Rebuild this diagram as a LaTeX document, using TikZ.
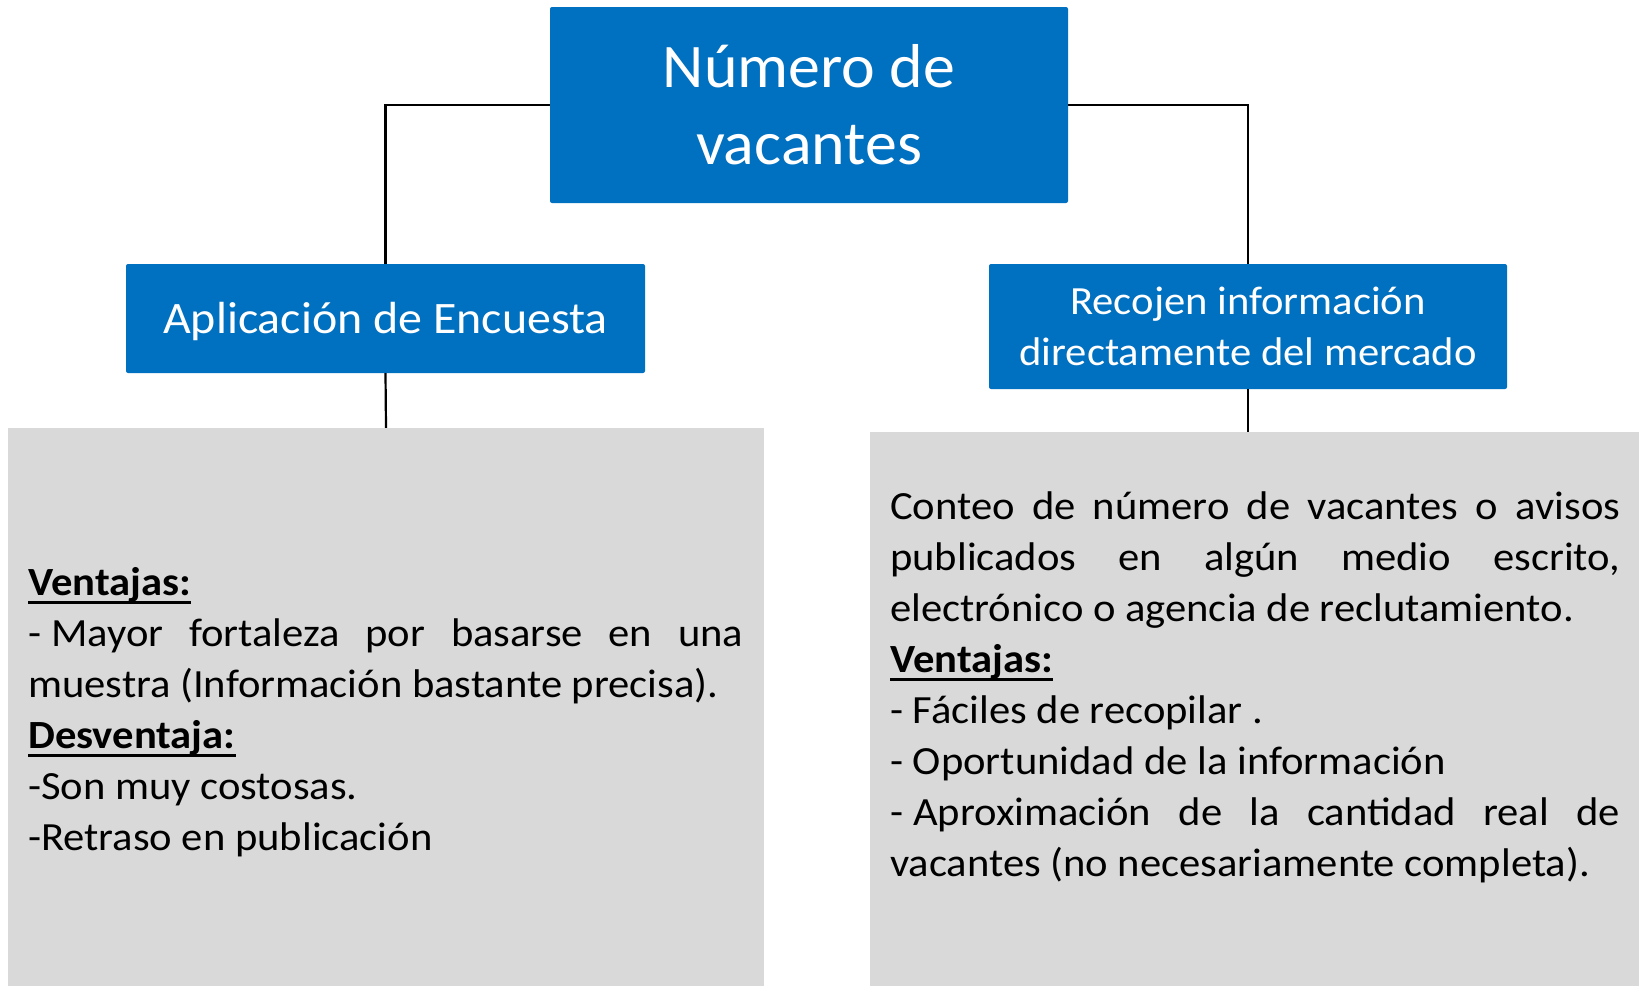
\documentclass[tikz,border=0pt]{standalone}
\usepackage{fontspec}
\setmainfont{Carlito}[FakeStretch=1.065]
\newfontfamily\titlefont{Carlito}[FakeStretch=1.03]
\definecolor{boxblue}{HTML}{0070C0}
\definecolor{boxgrey}{HTML}{D9D9D9}
\tolerance=10000
\hyphenpenalty=10000
\newcommand{\heading}[1]{\setbox0\hbox{\textbf{#1}}\rlap{\rule[-8pt]{\wd0}{3pt}}\box0}
\tikzset{
  bluebox/.style={rectangle,fill=boxblue,text=white,rounded corners=2pt,inner sep=0pt,align=center},
  greybox/.style={rectangle,fill=boxgrey,inner sep=0pt},
  infotext/.style={anchor=north west,inner sep=0pt,align=justify,font=\fontsize{40}{51}\selectfont},
  link/.style={line width=2.2pt}
}
\begin{document}
\begin{tikzpicture}[x=1pt,y=-1pt]
	% methods for counting job vacancies
	\useasboundingbox (0,0) rectangle (1639,986);
	\node[bluebox,minimum width=518pt,minimum height=196pt,font=\titlefont\fontsize{62}{77}\selectfont] (num) at (809,105) {Número de\\vacantes};
	\node[bluebox,minimum width=519pt,minimum height=109pt,text depth=1pt,font=\fontsize{45}{54}\selectfont] (enc) at (385.5,318.5) {Aplicación de Encuesta};
	\node[bluebox,minimum width=518pt,minimum height=125pt,font=\fontsize{40}{51}\selectfont] (rec) at (1248,326.5) {Recojen información\\directamente del mercado};

	\node[greybox,minimum width=756pt,minimum height=558pt] (encinfo) at (386,707) {};
	\node[greybox,minimum width=769pt,minimum height=554pt] (recinfo) at (1254.5,709) {};

	\node[infotext,text width=715pt] (enctext) at (28,560) {\strut\heading{Ventajas:}\\
		-\hspace{10pt}Mayor fortaleza por basarse en una\linebreak muestra (Información bastante precisa).\\
		\heading{Desventaja:}\\
		-Son muy costosas.\\
		-Retraso en publicación};
	\node[infotext,text width=730pt] (rectext) at (890,484) {\strut Conteo de número de vacantes o avisos\linebreak publicados en algún medio escrito,\linebreak electrónico o agencia de reclutamiento.\\
		\heading{Ventajas:}\\
		- Fáciles de recopilar .\\
		- Oportunidad de la información\\
		-\hspace{10pt}Aproximación de la cantidad real de\linebreak vacantes (no necesariamente completa).};

	\draw[link] (num.west) -| (enc.north);
	\draw[link] (num.east) -| (rec.north);
	\draw[link] (enc.south) -- (encinfo.north);
	\draw[link] (rec.south) -- (rec.south |- recinfo.north);
\end{tikzpicture}
\end{document}
